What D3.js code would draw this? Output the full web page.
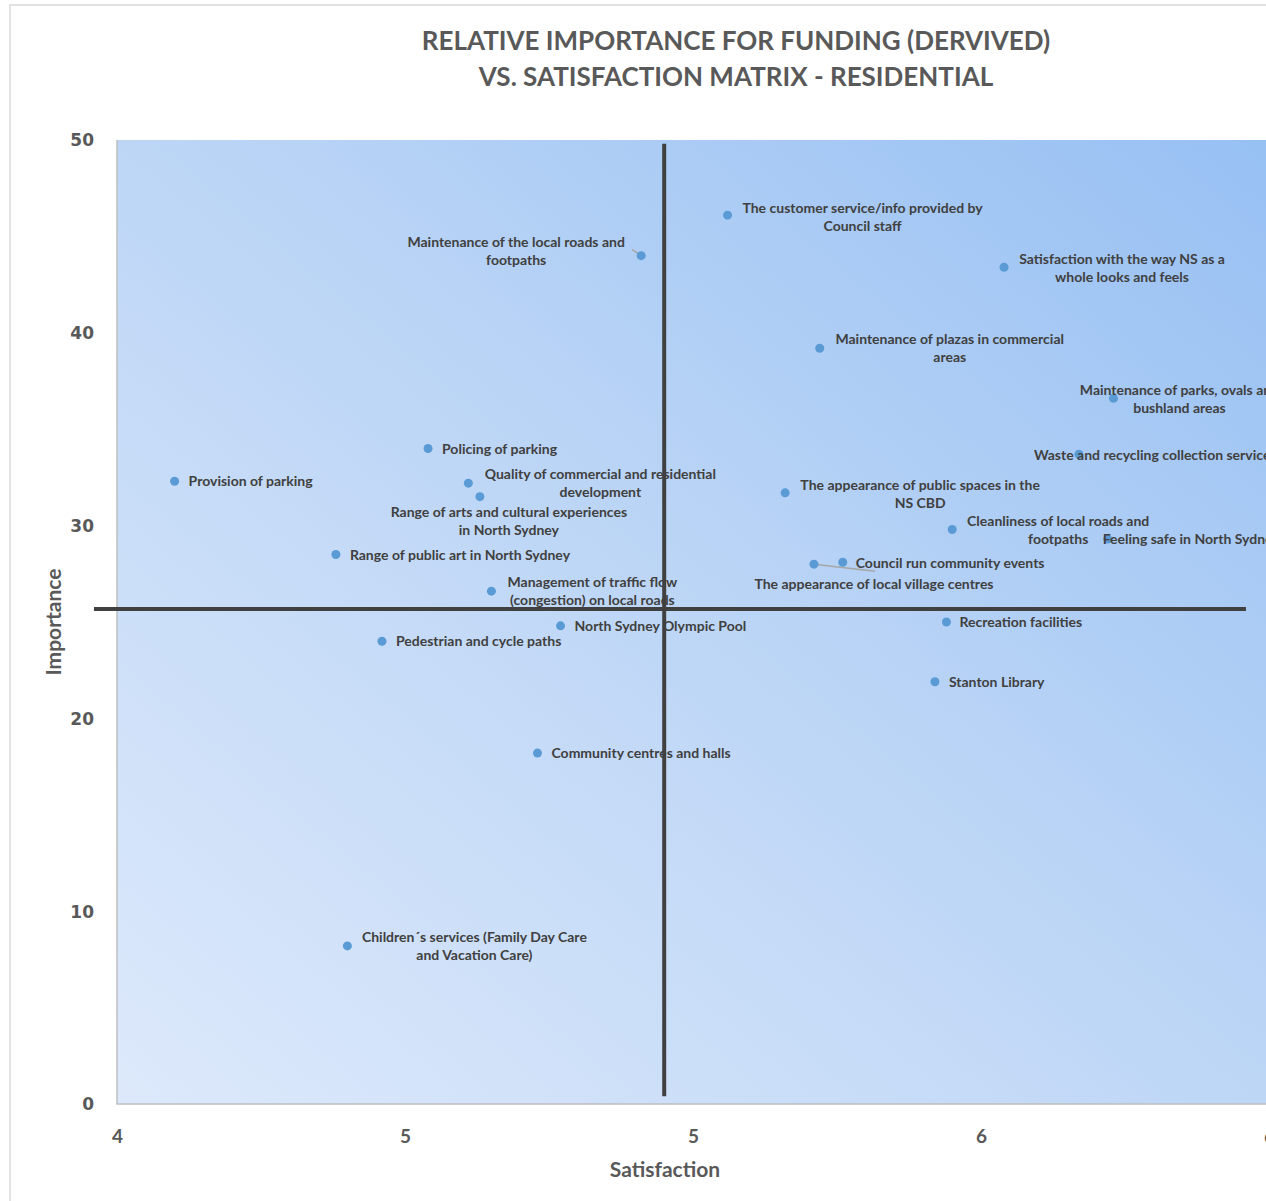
<!DOCTYPE html>
<html>
<head>
<meta charset="utf-8">
<script src="https://cdn.jsdelivr.net/npm/d3@7"></script>
<style>
  body { margin: 0; background: #fff; }
  svg { display: block; }
</style>
</head>
<body>
<svg id="chart" width="1266" height="1201"></svg>
<script>
// les données
var services = [
  "The customer service/info provided by\nCouncil staff",
  "Maintenance of the local roads and\nfootpaths",
  "Satisfaction with the way NS as a\nwhole looks and feels",
  "Maintenance of plazas in commercial\nareas",
  "Maintenance of parks, ovals and\nbushland areas",
  "Policing of parking",
  "Waste and recycling collection services",
  "Provision of parking",
  "Quality of commercial and residential\ndevelopment",
  "Range of arts and cultural experiences\nin North Sydney",
  "The appearance of public spaces in the\nNS CBD",
  "Cleanliness of local roads and\nfootpaths",
  "Feeling safe in North Sydney",
  "Range of public art in North Sydney",
  "The appearance of local village centres",
  "Council run community events",
  "Management of traffic flow\n(congestion) on local roads",
  "North Sydney Olympic Pool",
  "Recreation facilities",
  "Pedestrian and cycle paths",
  "Stanton Library",
  "Community centres and halls",
  "Children\u00b4s services (Family Day Care\nand Vacation Care)"
];
var satisfaction = [5.06, 4.91, 5.54, 5.22, 5.73, 4.54, 5.67, 4.10, 4.61, 4.63, 5.16, 5.45, 5.72,
                    4.38, 5.21, 5.26, 4.65, 4.77, 5.44, 4.46, 5.42, 4.73, 4.40];
var importance   = [46.1, 44.0, 43.4, 39.2, 36.6, 34.0, 33.7, 32.3, 32.2, 31.5, 31.7, 29.8, 29.3,
                    28.5, 28.0, 28.1, 26.6, 24.8, 25.0, 24.0, 21.9, 18.2, 8.2];

// moyennes (lignes de quadrant)
var meanSatisfaction = 4.95;
var meanImportance = 25.67;

var xTickValues = [4, 4.5, 5, 5.5, 6];
var xTickLabels = ["4", "5", "5", "6", "6"];
var yTickValues = [0, 10, 20, 30, 40, 50];

var titleLines = ["RELATIVE IMPORTANCE FOR FUNDING (DERVIVED)", "VS. SATISFACTION MATRIX - RESIDENTIAL"];

// placement des étiquettes : [dx, dy de la 1re ligne, ancrage]
var labelLayout = [
  [135, -7, "middle"], [-125, -14, "middle"], [118, -8, "middle"], [130, -9, "middle"],
  [66, -8, "middle"], [14, 1, "start"], [-45, 1, "start"], [14, 0, "start"],
  [132, -9, "middle"], [29, 15, "middle"], [135, -8, "middle"], [106, -8, "middle"],
  [-5, 0, "start"], [14, 0, "start"], [60, 20, "middle"], [13, 1, "start"],
  [101, -9, "middle"], [14, 0, "start"], [13, 0, "start"], [14, 0, "start"],
  [14, 0, "start"], [14, 0, "start"], [127, -9, "middle"]
];
// lignes de repère (index -> bout de la ligne relatif au point)
var leaders = {1: [-9, -6], 14: [61, 7]};

var svg = d3.select("#chart");
var plotLeft = 117, plotTop = 140, plotBottom = 1104, plotRight = 1269;

var x = d3.scaleLinear().domain([4, 6]).range([plotLeft, plotRight]);
var y = d3.scaleLinear().domain([0, 50]).range([plotBottom, plotTop]);

// cadre extérieur
svg.append("path")
  .attr("d", "M10,1201 V5 H1266")
  .attr("fill", "none")
  .attr("stroke", "#d9d9d9")
  .attr("stroke-width", 1.5);

// dégradé du fond
var grad = svg.append("defs").append("linearGradient")
  .attr("id", "bg")
  .attr("x1", 0).attr("y1", 1).attr("x2", 1).attr("y2", 0);
grad.append("stop").attr("offset", "0%").attr("stop-color", "#dde9fb");
grad.append("stop").attr("offset", "50%").attr("stop-color", "#bdd6f6");
grad.append("stop").attr("offset", "100%").attr("stop-color", "#97c0f3");

svg.append("rect")
  .attr("x", plotLeft).attr("y", plotTop)
  .attr("width", plotRight - plotLeft).attr("height", plotBottom - plotTop)
  .attr("fill", "url(#bg)");

svg.append("path")
  .attr("d", "M" + plotLeft + "," + plotTop + " V" + plotBottom + " H" + plotRight)
  .attr("fill", "none")
  .attr("stroke", "#bfbfbf")
  .attr("stroke-width", 1.5);

// titre
svg.append("g").selectAll("text")
  .data(titleLines)
  .enter()
  .append("text")
  .attr("x", 736)
  .attr("y", function(d, i) { return 50 + i * 36; })
  .attr("text-anchor", "middle")
  .style("font-family", "Lato, sans-serif")
  .style("font-weight", "bold")
  .style("font-size", "26px")
  .style("fill", "#595959")
  .text(function(d) { return d; });

// axes
var xAxis = svg.append("g")
  .attr("transform", "translate(0," + (plotBottom + 22) + ")")
  .call(d3.axisBottom(x).tickValues(xTickValues).tickSize(0)
        .tickFormat(function(d, i) { return xTickLabels[i]; }));
xAxis.select(".domain").remove();
xAxis.selectAll("text")
  .style("font-family", "Lato, sans-serif")
  .style("font-weight", "bold")
  .style("font-size", "19px")
  .style("fill", "#595959");

var yAxis = svg.append("g")
  .attr("transform", "translate(" + (plotLeft - 20) + ",0)")
  .call(d3.axisLeft(y).tickValues(yTickValues).tickSize(0));
yAxis.select(".domain").remove();
yAxis.selectAll("text")
  .attr("dy", "0.35em")
  .style("font-family", "DejaVu Sans, sans-serif")
  .style("font-weight", "bold")
  .style("font-size", "17px")
  .style("fill", "#595959");

svg.append("text")
  .attr("x", 665).attr("y", 1177)
  .attr("text-anchor", "middle")
  .style("font-family", "Lato, sans-serif")
  .style("font-weight", "bold")
  .style("font-size", "21px")
  .style("fill", "#595959")
  .text("Satisfaction");

svg.append("text")
  .attr("transform", "translate(61,622) rotate(-90)")
  .attr("text-anchor", "middle")
  .style("font-family", "Lato, sans-serif")
  .style("font-weight", "bold")
  .style("font-size", "21px")
  .style("fill", "#595959")
  .text("Importance");

// données en tableau
var points = services.map(function(name, i) {
  return {name: name, sat: satisfaction[i], imp: importance[i], i: i};
});

// lignes de repère
points.forEach(function(d) {
  var l = leaders[d.i];
  if (l) {
    svg.append("line")
      .attr("x1", x(d.sat)).attr("y1", y(d.imp))
      .attr("x2", x(d.sat) + l[0]).attr("y2", y(d.imp) + l[1])
      .attr("stroke", "#a6a6a6")
      .attr("stroke-width", 1.5);
  }
});

// points
svg.append("g").selectAll("circle")
  .data(points)
  .enter()
  .append("circle")
  .attr("cx", function(d) { return x(d.sat); })
  .attr("cy", function(d) { return y(d.imp); })
  .attr("r", 4.5)
  .attr("fill", "#5b9bd5");

// lignes de quadrant
svg.append("line")
  .attr("x1", x(meanSatisfaction)).attr("x2", x(meanSatisfaction))
  .attr("y1", y(49.8)).attr("y2", y(0.4))
  .attr("stroke", "#404040").attr("stroke-width", 4);
svg.append("line")
  .attr("x1", x(3.96)).attr("x2", x(5.96))
  .attr("y1", y(meanImportance)).attr("y2", y(meanImportance))
  .attr("stroke", "#404040").attr("stroke-width", 4);

// étiquettes
var labels = svg.append("g").selectAll("text")
  .data(points)
  .enter()
  .append("text")
  .attr("text-anchor", function(d) { return labelLayout[d.i][2]; })
  .style("font-family", "Lato, sans-serif")
  .style("font-weight", "bold")
  .style("font-size", "14px")
  .style("fill", "#404040");

labels.each(function(d) {
  var lay = labelLayout[d.i];
  var px = x(d.sat) + lay[0];
  var py = y(d.imp) + lay[1] + 5;
  d3.select(this).selectAll("tspan")
    .data(d.name.split("\n"))
    .enter()
    .append("tspan")
    .attr("x", px)
    .attr("y", function(t, k) { return py + k * 18; })
    .text(function(t) { return t; });
});
</script>
</body>
</html>
